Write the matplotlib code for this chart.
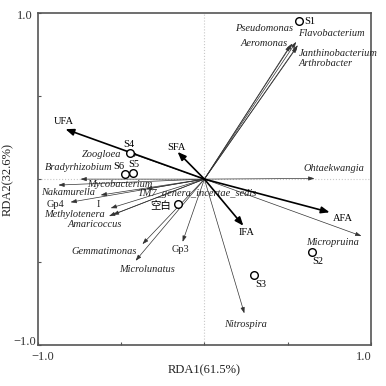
import matplotlib
matplotlib.use('Agg')
import matplotlib.pyplot as plt

plt.rcParams['font.family'] = ['Liberation Serif', 'Noto Sans CJK SC', 'DejaVu Sans']

# Environmental factors (bold arrows)
env_names = ['UFA', 'SFA', 'AFA', 'IFA']
env_x = [-0.834, -0.161, 0.752, 0.234]
env_y = [0.301, 0.164, -0.200, -0.281]

# Genera (thin arrows)
sp_names = ['Pseudomonas', 'Aeromonas', 'Flavobacterium', 'Janthinobacterium',
            'Arthrobacter', 'Ohtaekwangia', 'Micropruina', 'Nitrospira', 'Gp3',
            'Microlunatus', 'Gemmatimonas', 'Amaricoccus', 'Methylotenera', 'I',
            'Gp4', 'Nakamurella', 'Mycobacterium', 'Bradyrhizobium', 'Zoogloea',
            'TM7_genera_incertae_sedis']
sp_x = [0.527, 0.517, 0.551, 0.561, 0.557, 0.661, 0.943, 0.240, -0.131,
        -0.413, -0.372, -0.573, -0.550, -0.563, -0.804, -0.877, -0.623,
        -0.744, -0.449, -0.350]
sp_y = [0.817, 0.807, 0.827, 0.807, 0.797, 0.004, -0.343, -0.809, -0.378,
        -0.492, -0.392, -0.223, -0.215, -0.175, -0.139, -0.036, -0.096,
        0.000, 0.158, -0.060]
upright = {'Gp3', 'Gp4', 'I'}

# Samples
smp_names = ['S1', 'S2', 'S3', 'S4', 'S5', 'S6', '空白']
smp_x = [0.569, 0.646, 0.300, -0.449, -0.431, -0.477, -0.158]
smp_y = [0.952, -0.442, -0.578, 0.158, 0.038, 0.028, -0.151]

# label placement (x, y, ha)
env_lab = {'UFA': (-0.843, 0.349, 'center'), 'SFA': (-0.166, 0.193, 'center'),
           'AFA': (0.833, -0.237, 'center'), 'IFA': (0.256, -0.323, 'center')}
sp_lab = {'Pseudomonas': (0.535, 0.905, 'right'),
          'Aeromonas': (0.503, 0.817, 'right'),
          'Flavobacterium': (0.563, 0.878, 'left'),
          'Janthinobacterium': (0.566, 0.757, 'left'),
          'Arthrobacter': (0.563, 0.698, 'left'),
          'Ohtaekwangia': (0.78, 0.066, 'center'),
          'Micropruina': (0.768, -0.384, 'center'),
          'Nitrospira': (0.244, -0.873, 'center'),
          'Gp3': (-0.142, -0.422, 'center'),
          'Microlunatus': (-0.346, -0.542, 'center'),
          'Gemmatimonas': (-0.602, -0.434, 'center'),
          'Amaricoccus': (-0.657, -0.271, 'center'),
          'Methylotenera': (-0.78, -0.212, 'center'),
          'I': (-0.636, -0.150, 'center'),
          'Gp4': (-0.895, -0.150, 'center'),
          'Nakamurella': (-0.816, -0.078, 'center'),
          'Mycobacterium': (-0.509, -0.030, 'center'),
          'Bradyrhizobium': (-0.551, 0.072, 'right'),
          'Zoogloea': (-0.497, 0.151, 'right'),
          'TM7_genera_incertae_sedis': (-0.042, -0.084, 'center')}
smp_lab = {'S1': (0.597, 0.952, 'left'), 'S2': (0.680, -0.497, 'center'),
           'S3': (0.340, -0.633, 'center'), 'S4': (-0.455, 0.210, 'center'),
           'S5': (-0.426, 0.090, 'center'), 'S6': (-0.512, 0.075, 'center'),
           '空白': (-0.265, -0.163, 'center')}

fig = plt.figure(figsize=(3.86, 3.86), dpi=100)
ax = fig.add_axes([0.098, 0.106, 0.863, 0.860])
ax.set_xlim(-1, 1)
ax.set_ylim(-1, 1)

ax.axhline(0, color='#c8c8c8', lw=0.8, ls=':', zorder=0)
ax.axvline(0, color='#c8c8c8', lw=0.8, ls=':', zorder=0)

for name, x, y in zip(sp_names, sp_x, sp_y):
    ax.annotate('', xy=(x, y), xytext=(0, 0),
                arrowprops=dict(arrowstyle='-|>,head_length=0.35,head_width=0.12',
                                color='#333333', lw=0.5, shrinkA=0, shrinkB=0))
    lx, ly, ha = sp_lab[name]
    ax.text(lx, ly, name, ha=ha, va='center', fontsize=7.5,
            style='normal' if name in upright else 'italic', color='#222222')

for name, x, y in zip(env_names, env_x, env_y):
    ax.annotate('', xy=(x, y), xytext=(0, 0),
                arrowprops=dict(arrowstyle='-|>,head_length=0.5,head_width=0.2',
                                color='black', lw=1.2, shrinkA=0, shrinkB=0))
    lx, ly, ha = env_lab[name]
    ax.text(lx, ly, name, ha=ha, va='center', fontsize=7.5)

ax.plot(smp_x, smp_y, 'o', ms=5.5, mfc='white', mec='black', mew=1.0, zorder=5)
for name in smp_names:
    lx, ly, ha = smp_lab[name]
    ax.text(lx, ly, name, ha=ha, va='center', fontsize=7.5)

ax.set_xticks([-1, -0.5, 0, 0.5, 1])
ax.set_yticks([-1, -0.5, 0, 0.5, 1])
ax.set_xticklabels([])
ax.set_yticklabels([])
ax.tick_params(direction='in', length=2.5, width=0.8, color='#555555')
for s in ax.spines.values():
    s.set_color('#555555')
    s.set_linewidth(1.2)

ax.text(-0.97, -1.07, '\u22121.0', ha='center', va='center', fontsize=9,
        color='#333333', clip_on=False)
ax.text(0.96, -1.07, '1.0', ha='center', va='center', fontsize=9,
        color='#333333', clip_on=False)
ax.text(-1.08, 0.98, '1.0', ha='center', va='center', fontsize=9,
        color='#333333', clip_on=False)
ax.text(-1.08, -0.98, '\u22121.0', ha='center', va='center', fontsize=9,
        color='#333333', clip_on=False)
ax.text(0.0, -1.15, 'RDA1(61.5%)', ha='center', va='center', fontsize=9,
        color='#222222', clip_on=False)
ax.text(-1.18, 0.0, 'RDA2(32.6%)', ha='center', va='center', fontsize=9,
        rotation=90, color='#222222', clip_on=False)

fig.savefig('out.png', dpi=100)
